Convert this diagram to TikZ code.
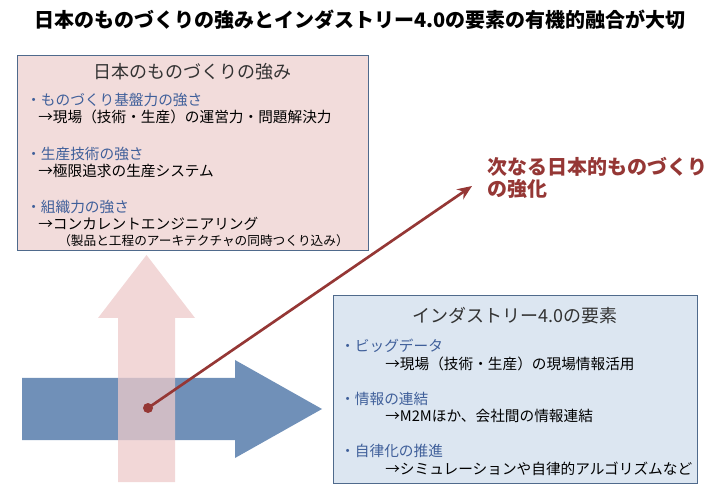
\documentclass[tikz,border=0pt]{standalone}
\usepackage{fontspec}
\usetikzlibrary{arrows.meta}
\setmainfont{Noto Sans CJK JP}
\begin{document}
\begin{tikzpicture}[x=0.75pt,y=-0.75pt,
  box/.style={draw=boxline,line width=1pt},
  bul/.style={anchor=west,inner sep=0pt,text=bultext,font=\fontsize{11}{13}\selectfont},
  sub/.style={anchor=west,inner sep=0pt,font=\fontsize{11}{13}\selectfont},
  hd/.style={inner sep=0pt,font=\fontsize{13.5}{15}\selectfont,text=black!80}]
\definecolor{boxline}{HTML}{4F6A8C}
\definecolor{bultext}{HTML}{3F5F9A}
\definecolor{pinkfill}{HTML}{F2DCDB}
\definecolor{bluefill}{HTML}{DCE6F1}
\definecolor{arrblue}{HTML}{7090B8}
\definecolor{arrpink}{HTML}{EDCACA}
\definecolor{darkred}{HTML}{953735}
\useasboundingbox (0,0) rectangle (720,498);
\node[font=\bfseries\fontsize{15}{17}\selectfont] (title) at (360,20) {日本のものづくりの強みとインダストリー4.0の要素の有機的融合が大切};
% arrows
\fill[arrblue] (22,378) -- (235,378) -- (235,360) -- (322,409) -- (235,458) -- (235,440) -- (22,440) -- cycle;
\fill[arrpink,opacity=0.75] (118,482) -- (118,318) -- (98,318) -- (146.5,255) -- (195,318) -- (175,318) -- (175,482) -- cycle;
% boxes
\node[box,fill=pinkfill,minimum width=351*0.75pt,minimum height=195*0.75pt,anchor=north west] (jp) at (17,55) {};
\node[hd] (jpt) at (192,72) {日本のものづくりの強み};
\node[bul] (a1) at (26,100) {・ものづくり基盤力の強さ};
\node[sub] (a2) at (38,117) {→現場（技術・生産）の運営力・問題解決力};
\node[bul] (b1) at (26,154) {・生産技術の強さ};
\node[sub] (b2) at (38,171) {→極限追求の生産システム};
\node[bul] (c1) at (26,207) {・組織力の強さ};
\node[sub] (c2) at (38,224) {→コンカレントエンジニアリング};
\node[sub,font=\fontsize{9.5}{11}\selectfont] (c3) at (58,241) {（製品と工程のアーキテクチャの同時つくり込み）};
\node[box,fill=bluefill,minimum width=364*0.75pt,minimum height=188*0.75pt,anchor=north west] (ind) at (333,295) {};
\node[hd] (indt) at (515,316) {インダストリー4.0の要素};
\node[bul] (d1) at (340,346) {・ビッグデータ};
\node[sub] (d2) at (385,364) {→現場（技術・生産）の現場情報活用};
\node[bul] (e1) at (340,399) {・情報の連結};
\node[sub] (e2) at (385,416) {→M2Mほか、会社間の情報連結};
\node[bul] (f1) at (340,451) {・自律化の推進};
\node[sub] (f2) at (385,469) {→シミュレーションや自律的アルゴリズムなど};
% red line
\fill[darkred] (148,408) circle (5) coordinate (dot);
\coordinate (tip) at (472,186);
\draw[darkred,line width=2pt,-{Stealth[length=11pt,width=9pt]}] (dot) -- (tip);
\node[anchor=west,inner sep=0pt,text=darkred,font=\bfseries\fontsize{15}{17}\selectfont] (r1) at (487,167) {次なる日本的ものづくり};
\node[anchor=west,inner sep=0pt,text=darkred,font=\bfseries\fontsize{15}{17}\selectfont] (r2) at (487,189) {の強化};
\end{tikzpicture}
\end{document}
